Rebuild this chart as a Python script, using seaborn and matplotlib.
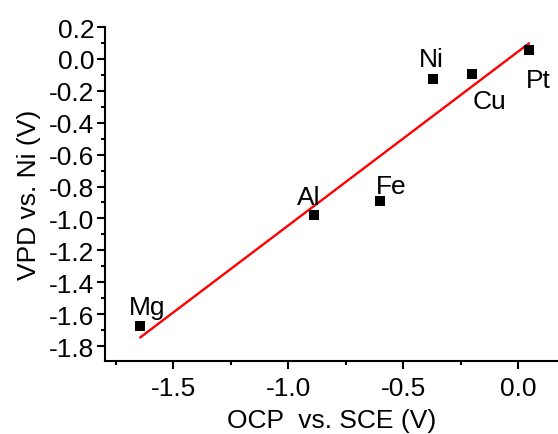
import matplotlib
matplotlib.use("Agg")
import matplotlib.pyplot as plt
import seaborn as sns
import pandas as pd
import numpy as np
from matplotlib.ticker import MultipleLocator, FuncFormatter

metals = ["Mg", "Al", "Fe", "Ni", "Cu", "Pt"]
ocp = [-1.643, -0.887, -0.600, -0.370, -0.200, 0.048]
vpd = [-1.675, -0.980, -0.893, -0.125, -0.094, 0.056]

# label offsets from each marker, in pixels (dx right, dy up)
label_offsets = {"Mg": (7, 12), "Al": (-5, 11), "Fe": (11, 8),
                 "Ni": (-2, 13), "Cu": (18, -34), "Pt": (9, -37)}

df = pd.DataFrame({"metal": metals, "ocp": ocp, "vpd": vpd})

sns.set_style("ticks")
plt.rcParams["font.family"] = ["Liberation Sans", "DejaVu Sans"]
plt.rcParams["text.color"] = "black"
plt.rcParams["axes.labelcolor"] = "black"
plt.rcParams["xtick.color"] = "black"
plt.rcParams["ytick.color"] = "black"

FS = 19

fig = plt.figure(figsize=(5.58, 4.35), dpi=100)
ax = fig.add_axes([105/558, 1 - 362/435, 1 - 105/558, (362 - 28)/435])

sns.regplot(data=df, x="ocp", y="vpd", ax=ax, ci=None, truncate=True,
            scatter=False, line_kws=dict(color="#ff0000", lw=1.7))
sns.scatterplot(data=df, x="ocp", y="vpd", ax=ax, marker="s", s=55,
                color="black", edgecolor="none", zorder=3)

for m, x, y in zip(metals, ocp, vpd):
    dx, dy = label_offsets[m]
    ax.annotate(m, (x, y), xytext=(dx * 0.72, dy * 0.72), textcoords="offset points",
                ha="center", va="baseline", fontsize=FS, color="black")

fmt = FuncFormatter(lambda v, p: f"{v:.1f}".replace("-0.0", "0.0"))
ax.set_xlim(-1.796, 0.174)
ax.set_ylim(-1.894, 0.2)
ax.xaxis.set_major_locator(MultipleLocator(0.5))
ax.xaxis.set_minor_locator(MultipleLocator(0.25))
ax.yaxis.set_major_locator(MultipleLocator(0.2))
ax.yaxis.set_minor_locator(MultipleLocator(0.1))
ax.xaxis.set_major_formatter(fmt)
ax.yaxis.set_major_formatter(fmt)

for s in ["top", "right"]:
    ax.spines[s].set_visible(False)
for s in ["left", "bottom"]:
    ax.spines[s].set_linewidth(1.5)
    ax.spines[s].set_color("black")

ax.tick_params(which="major", direction="out", length=5.5, width=1.5, labelsize=FS,
               colors="black", pad=2)
ax.tick_params(which="minor", direction="out", length=3, width=1.5, colors="black")
ax.tick_params(axis="x", which="both", pad=5)

ax.set_xlabel("OCP  vs. SCE (V)", fontsize=FS, labelpad=6)
ax.set_ylabel("VPD vs. Ni (V)", fontsize=FS, labelpad=6)

fig.savefig("out.png", dpi=100)
